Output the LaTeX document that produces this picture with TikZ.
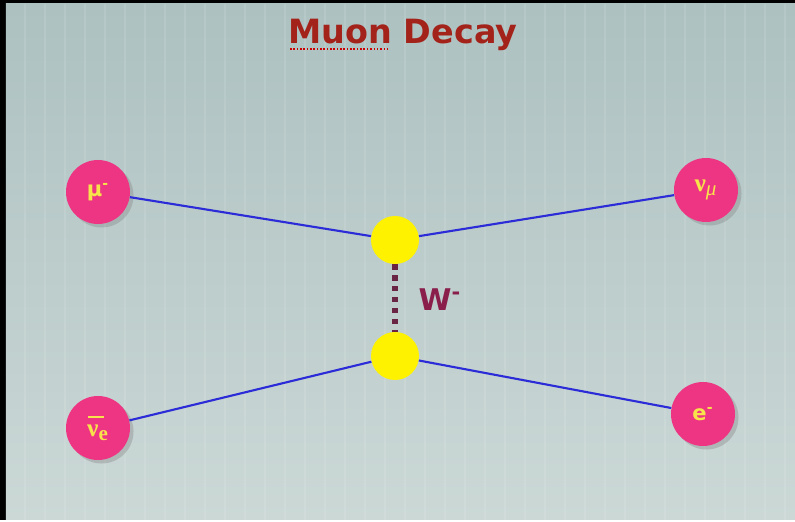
\documentclass[tikz,border=0pt]{standalone}
\usepackage{amsmath}
\usepackage{fontspec}
\setmainfont{DejaVu Sans}
\newfontfamily\greekserif{Liberation Serif}
\usepackage{tikz}
\usetikzlibrary{shadows, positioning}

\definecolor{bgtop}{HTML}{ADC1C1}
\definecolor{bgbot}{HTML}{CBD8D6}
\definecolor{particle}{HTML}{EE3584}
\definecolor{labelyellow}{HTML}{F7E34A}
\definecolor{fermionline}{HTML}{2B2BD8}
\definecolor{bosonline}{HTML}{6A2444}
\definecolor{titlered}{HTML}{A3231B}
\definecolor{wcolor}{HTML}{8A1F4C}

\begin{document}
\begin{tikzpicture}[
    particle/.style={circle, fill=particle, minimum size=1.28cm, inner sep=0pt,
        text=labelyellow, font=\bfseries\large,
        drop shadow={shadow xshift=2pt, shadow yshift=-2pt, opacity=0.35}},
    greek/.style={font=\greekserif\bfseries\Large},
    vertex/.style={circle, fill=yellow, minimum size=0.96cm, inner sep=0pt},
    fermion/.style={draw=fermionline, line width=1.2pt},
    boson/.style={draw=bosonline, line width=3.6pt, dash pattern=on 3pt off 3.2pt}
]
% frame and background
\fill[black] (0,0) rectangle (15.9,10.4);
\shade[top color=bgtop, bottom color=bgbot] (0.12,0) rectangle (15.9,10.32);
\foreach \x in {0.5,0.9,...,15.7}
    \draw[white, opacity=0.10, line width=1.5pt] (\x,0) -- (\x,10.32);

% title
\node[text=titlered, inner sep=0pt, font=\bfseries\fontsize{19}{22}\selectfont] (title) at (8.06,9.70) {Muon Decay};
\draw[red!80!black, densely dotted, line width=0.9pt]
    ([xshift=1pt, yshift=-3pt]title.base west) -- ++(1.95,0);

% vertices
\node[vertex] (vtop) at (7.90,5.60) {};
\node[vertex] (vbot) at (7.90,3.28) {};

% external particles
\node[particle] (muon) at (1.96,6.56) {μ\textsuperscript{-}};
\node[particle, greek] (numu) at (14.12,6.60) {ν\textsubscript{\mdseries\itshape\large μ}};
\node[particle, greek] (nuebar) at (1.96,1.84)
    {\rlap{\kern0.05em\rule[0.72em]{0.62em}{1.3pt}}ν\textsubscript{\large e}};
\node[particle] (electron) at (14.06,2.12) {e\textsuperscript{-}};

% lines
\draw[fermion] (muon) -- (vtop);
\draw[fermion] (vtop) -- (numu);
\draw[fermion] (nuebar) -- (vbot);
\draw[fermion] (vbot) -- (electron);
\draw[boson] (vtop) -- (vbot);

% W boson label
\node[text=wcolor, font=\bfseries\fontsize{17}{20}\selectfont] (wlabel) at (8.80,4.40) {W\textsuperscript{-}};
\end{tikzpicture}
\end{document}
